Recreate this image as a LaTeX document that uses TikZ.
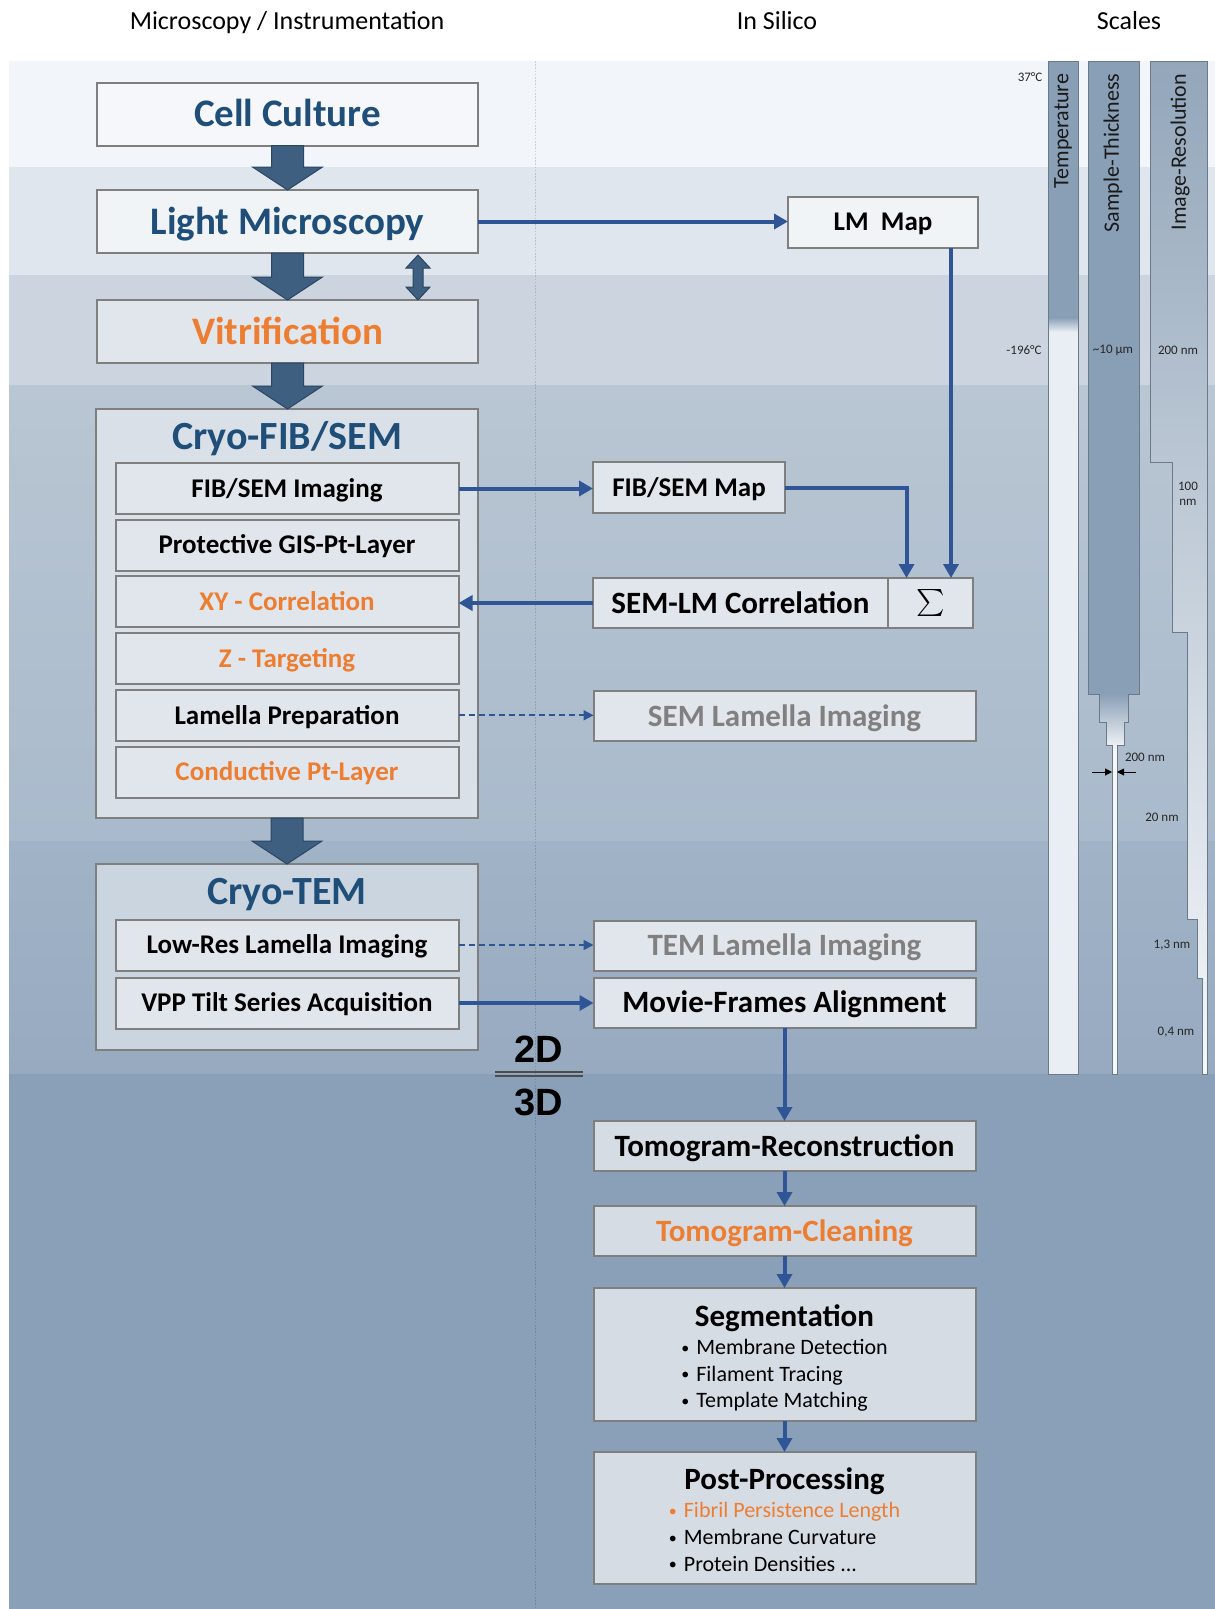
\documentclass[tikz,border=0pt]{standalone}
\usepackage{graphicx}
\usepackage{fontspec}
\setmainfont{Carlito}
\newfontfamily\dimfont{Liberation Sans}
\usetikzlibrary{arrows.meta, positioning, calc}

\definecolor{titleblue}{HTML}{1F4E79}
\definecolor{accent}{HTML}{ED7D31}
\definecolor{greytext}{HTML}{808080}
\definecolor{boxline}{HTML}{7F7F7F}
\definecolor{boxfill}{HTML}{E1E6EC}
\definecolor{darkfill}{HTML}{D5DCE4}
\definecolor{linkblue}{HTML}{2F5597}
\definecolor{slate}{HTML}{3E5F80}
\definecolor{slateline}{HTML}{2B4664}
\definecolor{band1}{HTML}{F2F5F9}
\definecolor{band2}{HTML}{E0E6ED}
\definecolor{band3}{HTML}{CCD5DF}
\definecolor{band4a}{HTML}{B9C6D3}
\definecolor{band4b}{HTML}{A9BACC}
\definecolor{band5a}{HTML}{A1B3C6}
\definecolor{band5b}{HTML}{97AAC0}
\definecolor{band6}{HTML}{8AA0B8}
\definecolor{scaledark}{HTML}{899FB6}
\definecolor{resdark}{HTML}{93A6BA}
\definecolor{resmid}{HTML}{B9C6D2}
\definecolor{coldfill}{HTML}{E9EEF4}
\definecolor{thinwhite}{HTML}{F5F7FA}
\definecolor{scaleedge}{HTML}{6C7A88}

% wide slate arrow from one stage down to the next
\newcommand{\bigdown}[2]{%
  \draw[bigarrow] ($(#1.south)+(-16pt,0)$) -- ($(#1.south |- #2.north)+(-16pt,23pt)$)
    -- ($(#1.south |- #2.north)+(-35pt,23pt)$) -- (#1.south |- #2.north)
    -- ($(#1.south |- #2.north)+(35pt,23pt)$) -- ($(#1.south |- #2.north)+(16pt,23pt)$)
    -- ($(#1.south)+(16pt,0)$) -- cycle;}
% small list bullet
\newcommand{\lbul}{\raisebox{1.3pt}{\fontsize{16}{16}\selectfont\textbullet}\hspace{7pt}}

\begin{document}
\begin{tikzpicture}[
  x=1pt, y=-1pt,
  every node/.style={outer sep=0pt},
  box/.style={rectangle, draw=boxline, line width=2pt, fill=boxfill},
  stage/.style={box, minimum width=381pt, minimum height=63pt,
             font=\fontsize{39}{45}\selectfont\bfseries, text=titleblue,
             text height=25pt, text depth=0pt},
  group/.style={box, minimum width=382pt},
  grouptitle/.style={font=\fontsize{40}{46}\selectfont\bfseries, text=titleblue,
             inner sep=0pt, text height=25.8pt, text depth=0pt},
  substep/.style={box, minimum width=343pt, minimum height=51pt,
             font=\fontsize{27}{32}\selectfont\bfseries, text height=17.4pt, text depth=0pt},
  silico/.style={box, minimum width=382pt, minimum height=50pt,
             font=\fontsize{31}{36}\selectfont\bfseries, text height=20pt, text depth=0pt},
  mapbox/.style={silico, minimum width=190pt, minimum height=51pt,
             font=\fontsize{27}{32}\selectfont\bfseries, text height=17.4pt},
  listbox/.style={box, fill=darkfill, minimum width=382pt, align=center,
             font=\fontsize{31}{34}\selectfont\bfseries},
  header/.style={font=\fontsize{26}{30}\selectfont, text height=16.8pt, text depth=0pt},
  dimlabel/.style={font=\dimfont\bfseries\fontsize{38}{42}\selectfont, inner sep=0pt},
  scalelab/.style={font=\fontsize{13}{15}\selectfont, text=black!85, inner sep=0pt},
  scaletitle/.style={font=\fontsize{22}{26}\selectfont, text=black!90, rotate=90, inner sep=0pt},
  bigarrow/.style={fill=slate, draw=slateline, line width=1pt},
  link/.style={draw=linkblue, line width=4pt, -{Triangle[length=14pt, width=15pt]}},
  dlink/.style={draw=linkblue, line width=1.8pt, dash pattern=on 6pt off 4pt,
             -{Triangle[length=10pt, width=10pt]}},
  pointer/.style={line width=1pt, -{Triangle[length=7pt, width=7pt]}},
  divider/.style={draw=black, draw opacity=0.15, line width=0.8pt, dash pattern=on 1.6pt off 1.6pt},
  splitline/.style={draw=black!70, line width=1.3pt}
]
\useasboundingbox (0,0) rectangle (1215,1609);
\fill[white] (0,0) rectangle (1215,1609);

% Background bands
\fill[band1] (9,61) rectangle (1215,167);
\fill[band2] (9,167) rectangle (1215,275);
\fill[band3] (9,275) rectangle (1215,385);
\shade[top color=band4a, bottom color=band4b] (9,385) rectangle (1215,841);
\shade[top color=band5a, bottom color=band5b] (9,841) rectangle (1215,1074);
\fill[band6] (9,1074) rectangle (1215,1609);
\draw[divider] (535,61) -- (535,1609);

% Column headers
\node[header] (hmicro) at (287,21) {Microscopy / Instrumentation};
\node[header] (hsilico) at (777,21) {In Silico};
\node[header] (hscales) at (1129,21) {Scales};

% Scales: temperature
\fill[coldfill] (1048,61) rectangle (1078,1074);
\fill[scaledark] (1048,61) rectangle (1078,318);
\shade[top color=scaledark, bottom color=coldfill] (1048,317.5) rectangle (1078,332);
\draw[scaleedge] (1048,61) rectangle (1078,1074);

% Scales: sample thickness
\def\thickpath{(1088,61) -- (1139,61) -- (1139,694) -- (1128,694) -- (1128,722) -- (1124,722)
  -- (1124,745) -- (1117,745) -- (1117,1074) -- (1112,1074) -- (1112,745) -- (1106,745)
  -- (1106,722) -- (1099,722) -- (1099,694) -- (1088,694) -- cycle}
\fill[thinwhite] \thickpath;
\begin{scope}
  \clip \thickpath;
  \fill[scaledark] (1085,61) rectangle (1142,694);
  \shade[top color=scaledark, bottom color=thinwhite] (1085,693.5) rectangle (1142,750);
\end{scope}
\draw[scaleedge] \thickpath;

% Scales: image resolution
\def\respath{(1150,61) -- (1207,61) -- (1207,1074) -- (1202,1074) -- (1202,978) -- (1197,978)
  -- (1197,919) -- (1187,919) -- (1187,632) -- (1172,632) -- (1172,462) -- (1150,462) -- cycle}
\shade[top color=resdark, middle color=resmid, bottom color=thinwhite] \respath;
\draw[scaleedge] \respath;

\node[scaletitle] (ttemp) at (1063,131) {Temperature};
\node[scaletitle] (tthick) at (1113,153) {Sample-Thickness};
\node[scaletitle] (tres) at (1180,152) {Image-Resolution};
\node[scalelab] (t37) at (1030,77) {37°C};
\node[scalelab] (tcold) at (1024,350) {-196°C};
\node[scalelab] (th10) at (1113,350) {\textasciitilde10 µm};
\node[scalelab] (r200) at (1178,350) {200 nm};
\node[scalelab, align=center] (r100) at (1188,494) {100\\nm};
\node[scalelab] (th200) at (1145,757) {200 nm};
\node[scalelab] (r20) at (1162,817) {20 nm};
\node[scalelab] (r13) at (1172,945) {1,3 nm};
\node[scalelab] (r04) at (1176,1032) {0,4 nm};
\draw[pointer] (1092,772) -- (1112,772);
\draw[pointer] (1136,772) -- (1117,772);

% Microscopy column
\node[stage, fill=thinwhite] (cell) at (287.5,114) {Cell Culture};
\node[stage, fill=white!55!band2] (light) at (287.5,221.5) {Light Microscopy};
\node[stage, text=accent] (vitri) at (287.5,331.5) {Vitrification};

\node[group, fill=white!45!band4a, minimum height=409pt] (fibsem) at (287,613.5) {};
\node[grouptitle] (fibtitle) at ([yshift=-28pt]fibsem.north) {Cryo-FIB/SEM};
\node[substep] (fibimg) at ([yshift=-79.5pt]fibsem.north) {FIB/SEM Imaging};
\node[substep, below=5.7pt of fibimg] (gis) {Protective GIS-Pt-Layer};
\node[substep, text=accent, below=5.7pt of gis] (xycorr) {XY - Correlation};
\node[substep, text=accent, below=5.7pt of xycorr] (ztarget) {Z - Targeting};
\node[substep, below=5.7pt of ztarget] (lamprep) {Lamella Preparation};
\node[substep, text=accent, below=5.7pt of lamprep] (condpt) {Conductive Pt-Layer};

\node[group, fill=white!45!band5a, minimum height=186pt] (tem) at (287,957) {};
\node[grouptitle] (temtitle) at ([yshift=-28pt]tem.north) {Cryo-TEM};
\node[substep] (lowres) at ([yshift=-81pt]tem.north) {Low-Res Lamella Imaging};
\node[substep, below=7pt of lowres] (vpp) {VPP Tilt Series Acquisition};

% 2D / 3D split
\node[dimlabel] (twod) at (539,1049) {2D};
\node[dimlabel] (threed) at (539,1102) {3D};
\draw[splitline] (495,1072) -- (583,1072);
\draw[splitline] (495,1076) -- (583,1076);

% In silico column
\node[mapbox, fill=white!55!band2] (lmmap) at (883,222) {LM~~Map};
\node[mapbox, minimum width=192pt] (fsmap) at (689,487.5) {FIB/SEM Map};
\node[silico, minimum width=295pt] (semlm) at (740.5,603) {SEM-LM Correlation};
\node[silico, minimum width=85pt, right=0pt of semlm, font=\fontsize{10}{12}\selectfont,
      text height={}, text depth={}] (sigma) {\scalebox{2.7}{$\sum$}};
\node[silico, text=greytext] (semlam) at (784.5,716) {SEM Lamella Imaging};
\node[silico, text=greytext] (temlam) at (784.5,945.5) {TEM Lamella Imaging};
\node[silico, below=7pt of temlam] (movie) {Movie-Frames Alignment};
\node[silico, fill=darkfill] (tomrec) at (784.5,1146) {Tomogram-Reconstruction};
\node[silico, fill=darkfill, text=accent, below=35pt of tomrec] (tomclean) {Tomogram-Cleaning};
\node[listbox, minimum height=133pt, below=32pt of tomclean] (seg)
  {\rule{0pt}{33pt}Segmentation\\[-6pt]
   {\fontsize{22}{26.7}\selectfont\mdseries\begin{tabular}[t]{@{}l@{}}
   \lbul Membrane Detection\\
   \lbul Filament Tracing\\
   \lbul Template Matching
   \end{tabular}}};
\node[listbox, minimum height=132pt, below=31pt of seg] (post)
  {\rule{0pt}{33pt}Post-Processing\\[-6pt]
   {\fontsize{22}{26.7}\selectfont\mdseries\begin{tabular}[t]{@{}l@{}}
   {\color{accent}\lbul Fibril Persistence Length}\\
   \lbul Membrane Curvature\\
   \lbul Protein Densities ...
   \end{tabular}}};

% Main flow
\bigdown{cell}{light}
\bigdown{light}{vitri}
\bigdown{vitri}{fibsem}
\bigdown{fibsem}{tem}

% Back and forth between LM and vitrification
\coordinate (dtop) at ([xshift=130.5pt,yshift=-2pt]light.south);
\coordinate (dbot) at ([xshift=130.5pt]vitri.north);
\draw[bigarrow] (dtop) -- ++(12pt,-13pt) -- ++(-7pt,0pt) -- ($(dbot)+(5pt,13pt)$) -- ++(7pt,0pt)
  -- (dbot) -- ++(-12pt,13pt) -- ++(7pt,0pt) -- ($(dtop)+(-5pt,-13pt)$) -- ++(-7pt,0pt) -- cycle;

% Maps and correlation
\draw[link] (light.east) -- (light.east -| lmmap.west);
\coordinate (lmdrop) at ([xshift=-27pt]lmmap.south east);
\draw[link] (lmdrop) -- (lmdrop |- sigma.north);
\draw[link] (fibimg.east) -- (fibimg.east -| fsmap.west);
\draw[link] (fsmap.east) -| ($(sigma.north)+(-24pt,0pt)$);
\draw[link] (semlm.west) -- (semlm.west -| xycorr.east);

% Lamella imaging
\draw[dlink] (lamprep.east) -- (lamprep.east -| semlam.west);
\draw[dlink] (lowres.east) -- (lowres.east -| temlam.west);
\draw[link] (vpp.east) -- (vpp.east -| movie.west);

% Processing chain
\draw[link] (movie.south) -- (tomrec.north);
\draw[link] (tomrec.south) -- (tomclean.north);
\draw[link] (tomclean.south) -- (seg.north);
\draw[link] (seg.south) -- (post.north);

\end{tikzpicture}
\end{document}
